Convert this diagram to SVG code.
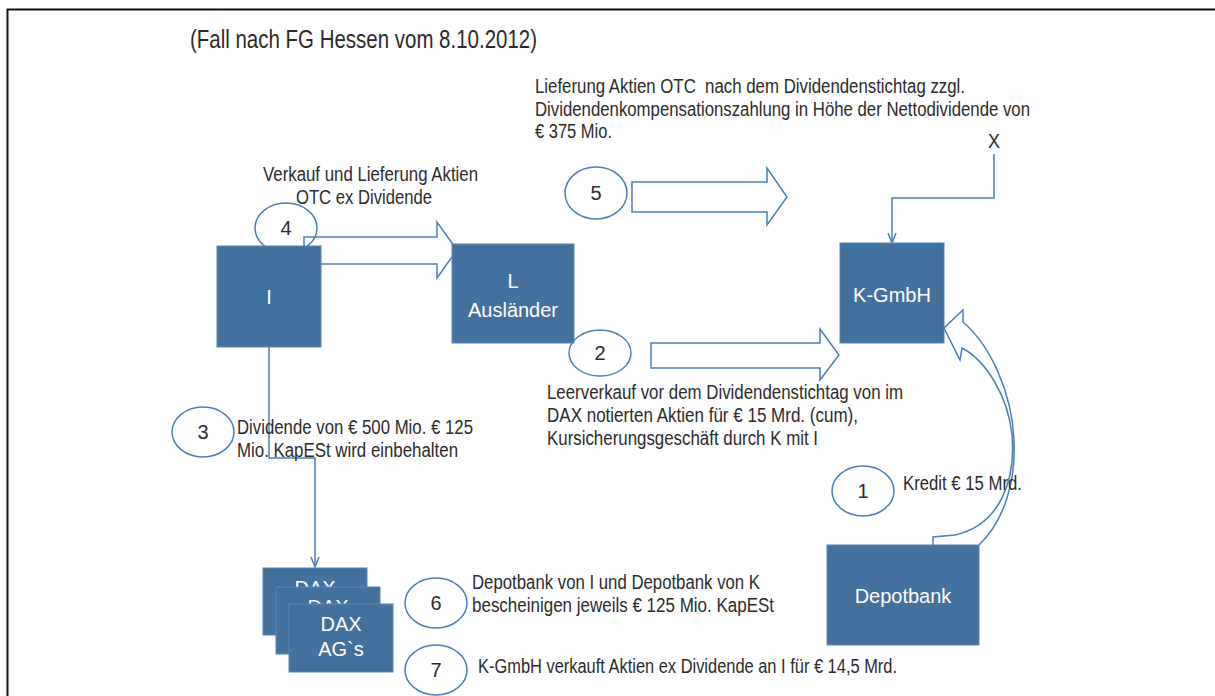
<svg xmlns="http://www.w3.org/2000/svg" width="1215" height="696" viewBox="0 0 1215 696">
<defs>
<style>
.t{font-family:"Liberation Sans Narrow","Liberation Sans",Arial,sans-serif;font-size:20px;fill:#2b2b2b}
.c{text-anchor:middle}
.w{fill:#ffffff}
.box{fill:#43719d;stroke:#5b86b1;stroke-width:1}
.el{fill:none;stroke:#4a7ebb;stroke-width:1.5}
.ba{fill:#ffffff;stroke:#4a7ebb;stroke-width:1.5;stroke-linejoin:miter}
.ln{fill:none;stroke:#4a7ebb;stroke-width:1.5}
</style>
<marker id="arr" markerUnits="userSpaceOnUse" viewBox="0 0 12 10" refX="11" refY="5" markerWidth="12" markerHeight="10" orient="auto">
<path d="M1,1 L11,5 L1,9" fill="none" stroke="#4a7ebb" stroke-width="1.5"/>
</marker>
</defs>
<rect x="0" y="0" width="1215" height="696" fill="#ffffff"/>
<rect x="7.5" y="9.5" width="1400" height="900" fill="none" stroke="#111111" stroke-width="2"/>

<text class="t" x="190" y="48" style="font-size:25px" textLength="347" lengthAdjust="spacingAndGlyphs">(Fall nach FG Hessen vom 8.10.2012)</text>

<g id="connectors">
  <polygon class="ba" points="304,237 437,237 437,222 457,250 437,278 437,264 304,264"/>
  <polygon class="ba" points="632,182 767,182 767,168 787,197 767,225 767,212 632,212"/>
  <polygon class="ba" points="651,343 820,343 820,329 839,355 820,380 820,368 651,368"/>
  <path class="ln" d="M994,154 V198 H892 V243" marker-end="url(#arr)"/>
  <path class="ln" d="M269,347 V458 H315 V567" marker-end="url(#arr)"/>
  <path class="ln" d="M979,545 C1005,520 1016,480 1014,440 C1012,392 990,345 963,322 L963,310 L944,328 L960,360 L962,348 C985,360 1008,395 1012,435 C1016,480 1000,525 955,535 L933,537 L933,545"/>
</g>

<g id="e4"><ellipse class="el" cx="286" cy="228" rx="31" ry="25"/><text class="t c" x="286" y="235">4</text></g>

<g id="node-I"><rect class="box" x="217" y="246" width="104" height="101"/><text class="t c w" x="269" y="304">I</text></g>
<g id="node-L"><rect class="box" x="452" y="244" width="122" height="99"/><text class="t c w" x="513" y="288">L</text><text class="t c w" x="513" y="317">Ausländer</text></g>
<g id="node-K"><rect class="box" x="840" y="243" width="104" height="100"/><text class="t c w" x="892" y="302">K-GmbH</text></g>
<g id="node-Depotbank"><rect class="box" x="827" y="545" width="152" height="100"/><text class="t c w" x="903" y="603">Depotbank</text></g>
<g id="node-DAX">
  <rect class="box" x="263" y="568" width="104" height="67"/><text class="t c w" x="315" y="595">DAX</text>
  <rect class="box" x="276" y="587" width="104" height="67"/><text class="t c w" x="328" y="614">DAX</text>
  <rect class="box" x="289" y="604" width="104" height="68"/><text class="t c w" x="341" y="631">DAX</text><text class="t c w" x="341" y="656">AG`s</text>
</g>
<g id="node-X"><text class="t" x="988" y="148" textLength="12" lengthAdjust="spacingAndGlyphs">X</text></g>

<g id="e5"><ellipse class="el" cx="596" cy="193" rx="31" ry="26"/><text class="t c" x="596" y="200">5</text></g>
<g id="e2"><ellipse class="el" cx="600" cy="353" rx="31" ry="23"/><text class="t c" x="600" y="360">2</text></g>
<g id="e3"><ellipse class="el" cx="203" cy="432" rx="31" ry="25"/><text class="t c" x="203" y="439">3</text></g>
<g id="e1"><ellipse class="el" cx="863" cy="491" rx="31" ry="25"/><text class="t c" x="863" y="498">1</text></g>
<g id="e6"><ellipse class="el" cx="436" cy="603" rx="31" ry="25"/><text class="t c" x="436" y="610">6</text></g>
<g id="e7"><ellipse class="el" cx="436" cy="670" rx="31" ry="25"/><text class="t c" x="436" y="677">7</text></g>

<g id="label-5">
<text class="t" x="535" y="93" xml:space="preserve" textLength="430" lengthAdjust="spacingAndGlyphs">Lieferung Aktien OTC  nach dem Dividendenstichtag zzgl.</text>
<text class="t" x="535" y="115.5" textLength="495" lengthAdjust="spacingAndGlyphs">Dividendenkompensationszahlung in Höhe der Nettodividende von</text>
<text class="t" x="535" y="138" textLength="77" lengthAdjust="spacingAndGlyphs">€ 375 Mio.</text>
</g>
<g id="label-4">
<text class="t" x="263" y="181" textLength="215" lengthAdjust="spacingAndGlyphs">Verkauf und Lieferung Aktien</text>
<text class="t" x="296" y="204" textLength="136" lengthAdjust="spacingAndGlyphs">OTC ex Dividende</text>
</g>
<g id="label-2">
<text class="t" x="547" y="399" textLength="356" lengthAdjust="spacingAndGlyphs">Leerverkauf vor dem Dividendenstichtag von im</text>
<text class="t" x="547" y="422" textLength="311" lengthAdjust="spacingAndGlyphs">DAX notierten Aktien für € 15 Mrd. (cum),</text>
<text class="t" x="547" y="445" textLength="271" lengthAdjust="spacingAndGlyphs">Kursicherungsgeschäft durch K mit I</text>
</g>
<g id="label-3">
<text class="t" x="237" y="434" textLength="236" lengthAdjust="spacingAndGlyphs">Dividende von € 500 Mio. € 125</text>
<text class="t" x="237" y="457" textLength="221" lengthAdjust="spacingAndGlyphs">Mio. KapESt wird einbehalten</text>
</g>
<g id="label-1">
<text class="t" x="903" y="490" textLength="119" lengthAdjust="spacingAndGlyphs">Kredit € 15 Mrd.</text>
</g>
<g id="label-6">
<text class="t" x="472" y="589" textLength="288" lengthAdjust="spacingAndGlyphs">Depotbank von I und Depotbank von K</text>
<text class="t" x="472" y="612" textLength="302" lengthAdjust="spacingAndGlyphs">bescheinigen jeweils € 125 Mio. KapESt</text>
</g>
<g id="label-7">
<text class="t" x="478" y="673" textLength="419" lengthAdjust="spacingAndGlyphs">K-GmbH verkauft Aktien ex Dividende an I für € 14,5 Mrd.</text>
</g>
</svg>
